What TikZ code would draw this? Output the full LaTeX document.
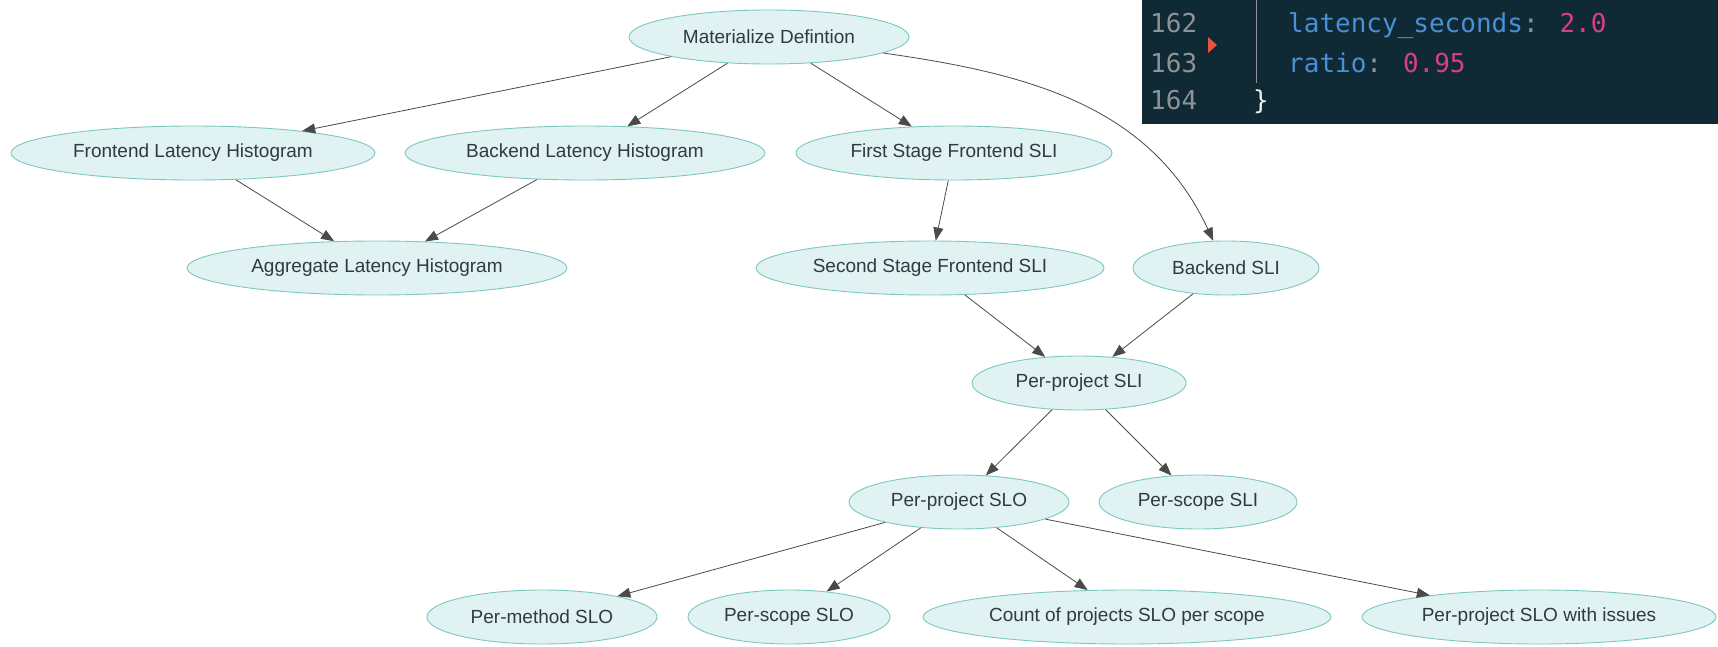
\documentclass[tikz,border=0pt]{standalone}
\usepackage{fontspec}
\setmainfont{Liberation Sans}
\newfontfamily\codefont{DejaVu Sans Mono}
\usetikzlibrary{arrows.meta,shapes.geometric}
\definecolor{nodefill}{HTML}{E0F2F1}
\definecolor{nodeline}{HTML}{7CC8C0}
\definecolor{nodetext}{HTML}{323A3F}
\definecolor{edgecol}{HTML}{4A4A4A}
\definecolor{codebg}{HTML}{0F2935}
\definecolor{codenum}{HTML}{8E9396}
\definecolor{codekey}{HTML}{4B8FD4}
\definecolor{codeval}{HTML}{D8407F}
\definecolor{codemark}{HTML}{E8533C}

\begin{document}
\begin{tikzpicture}[x=1pt, y=-1pt,
    box/.style={ellipse, draw=nodeline, fill=nodefill, line width=0.9pt, inner sep=0pt,
        minimum height=54pt, text=nodetext, font=\fontsize{19}{22}\selectfont},
    link/.style={draw=edgecol, line width=0.8pt, -{Triangle[length=13pt, width=10pt]}},
    num/.style={anchor=base west, text=codenum, inner sep=0pt, font=\codefont\fontsize{26}{30}\selectfont}]
		
		\useasboundingbox (0,0) rectangle (1718,647);
		
		% code panel
		\fill[codebg] (1142,0) rectangle (1718,124);
		\draw[codenum, line width=1pt] (1256,0) -- (1256,83);
		\fill[codemark] (1208,37) -- (1217,45) -- (1208,53) -- cycle;
		\node[num] (n162) at (1150,33) {162};
		\node[num] (n163) at (1150,73) {163};
		\node[num] (n164) at (1150,110) {164};
		\node[num] (c162) at (1288,33) {\textcolor{codekey}{latency\_seconds}\textcolor{codenum}{:} \textcolor{codeval}{2.0}};
		\node[num] (c163) at (1288,73) {\textcolor{codekey}{ratio}\textcolor{codenum}{:} \textcolor{codeval}{0.95}};
		\node[num, text=white!85!codenum] (c164) at (1253,110) {\}};
		
		% nodes
		\node[box, minimum width=280pt] (mat) at (769,37) {Materialize Defintion};
		
		\node[box, minimum width=364pt] (flh) at (193,153) {Frontend Latency Histogram};
		\node[box, minimum width=360pt] (blh) at (585,153) {Backend Latency Histogram};
		\node[box, minimum width=316pt] (fsf) at (954,153) {First Stage Frontend SLI};
		
		\node[box, minimum width=380pt] (alh) at (377,268) {Aggregate Latency Histogram};
		\node[box, minimum width=348pt] (ssf) at (930,268) {Second Stage Frontend SLI};
		\node[box, minimum width=186pt] (bsli) at (1226,268) {Backend SLI};
		
		\node[box, minimum width=214pt] (ppsli) at (1079,383) {Per-project SLI};
		
		\node[box, minimum width=220pt] (ppslo) at (959,502) {Per-project SLO};
		\node[box, minimum width=198pt] (pssli) at (1198,502) {Per-scope SLI};
		
		\node[box, minimum width=230pt] (pmslo) at (542,617) {Per-method SLO};
		\node[box, minimum width=202pt] (psslo) at (789,617) {Per-scope SLO};
		\node[box, minimum width=408pt] (cnt) at (1127,617) {Count of projects SLO per scope};
		\node[box, minimum width=354pt] (ppsloi) at (1539,617) {Per-project SLO with issues};
		
		% edges
		\draw[link] (mat) -- (flh);
		\draw[link] (mat) -- (blh);
		\draw[link] (mat) -- (fsf);
		\draw[link] (mat) to[out=-8, in=115] (bsli);
		
		\draw[link] (flh) -- (alh);
		\draw[link] (blh) -- (alh);
		\draw[link] (fsf) -- (ssf);
		
		\draw[link] (ssf) -- (ppsli);
		\draw[link] (bsli) -- (ppsli);
		
		\draw[link] (ppsli) -- (ppslo);
		\draw[link] (ppsli) -- (pssli);
		
		\draw[link] (ppslo) -- (pmslo);
		\draw[link] (ppslo) -- (psslo);
		\draw[link] (ppslo) -- (cnt);
		\draw[link] (ppslo) -- (ppsloi);
		
\end{tikzpicture}
\end{document}
